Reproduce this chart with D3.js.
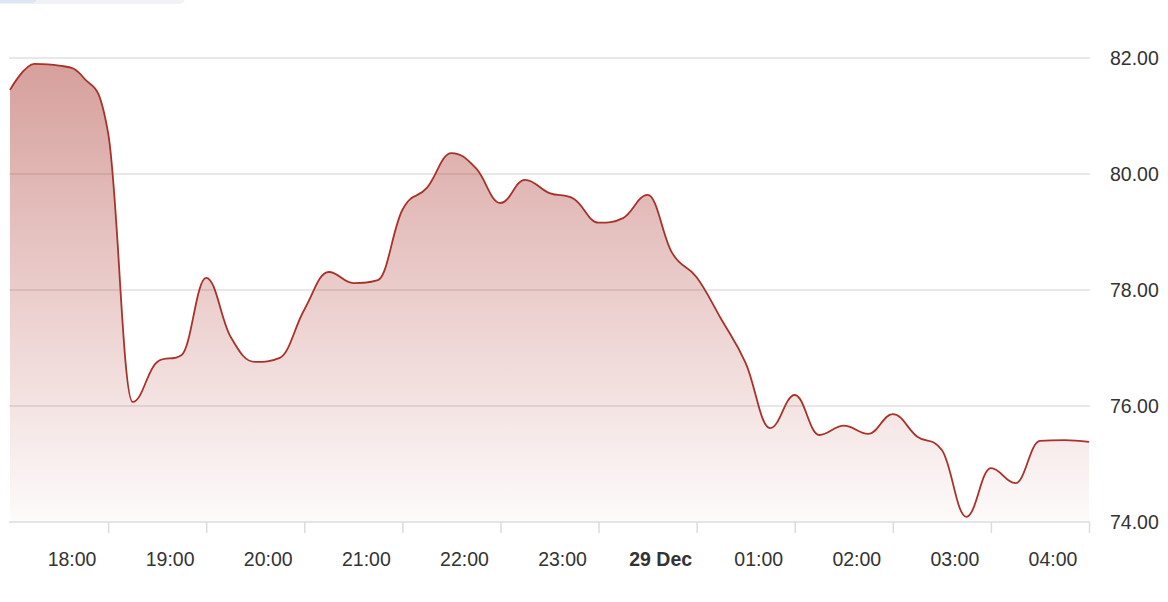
<!DOCTYPE html>
<html>
<head>
<meta charset="utf-8">
<script src="https://cdn.jsdelivr.net/npm/d3@7"></script>
<style>
  html, body { margin: 0; padding: 0; background: #fff; }
  svg { display: block; font-family: "Liberation Sans", Arial, sans-serif; }
</style>
</head>
<body>
<svg id="chart"></svg>
<script>
// price every 15 minutes, 28 Dec 17:00 -> 29 Dec 04:00
var startTime = new Date(2024, 11, 28, 17, 0);
var endTime = new Date(2024, 11, 29, 4, 0);
var stepMinutes = 15;
var prices = [
  81.45, 81.90, 81.87, 81.66, 80.71, 76.07, 76.76, 76.88, 78.21, 77.19,
  76.76, 76.83, 77.66, 78.31, 78.12, 78.17, 79.38, 79.76, 80.36, 80.10,
  79.50, 79.90, 79.67, 79.57, 79.16, 79.24, 79.64, 78.64, 78.22, 77.50,
  76.74, 75.62, 76.19, 75.50, 75.66, 75.52, 75.86, 75.47, 75.24, 74.09,
  74.93, 74.67, 75.40, 75.41, 75.38
];
var yTicks = [74, 76, 78, 80, 82];

var width = 1168,
    height = 602;
var plotLeft = 10, plotRight = 1089, plotTop = 58, plotBottom = 522;
var fontSize = "19.5px";

var data = prices.map(function (v, i) {
  return { t: new Date(startTime.getTime() + i * stepMinutes * 60000), v: v };
});

// spline curve: control points at 0.4 of the gap, no false extremes
function splineCurve(context) {
  var pts;
  return {
    areaStart: function () {},
    areaEnd: function () {},
    lineStart: function () { pts = []; },
    point: function (x, y) { pts.push([+x, +y]); },
    lineEnd: function () {
      var n = pts.length, s = 1.5, k = s + 1;
      var lc = [], rc = [];
      for (var i = 0; i < n; i++) {
        var px = pts[i][0], py = pts[i][1];
        if (i === 0 || i === n - 1) { lc[i] = [px, py]; rc[i] = [px, py]; continue; }
        var lx = pts[i - 1][0], ly = pts[i - 1][1], nx = pts[i + 1][0], ny = pts[i + 1][1];
        var lcx = (s * px + lx) / k, lcy = (s * py + ly) / k;
        var rcx = (s * px + nx) / k, rcy = (s * py + ny) / k;
        var corr = ((rcy - lcy) * (rcx - px)) / (rcx - lcx) + py - rcy;
        lcy += corr; rcy += corr;
        if (lcy > ly && lcy > py) { lcy = Math.max(ly, py); rcy = 2 * py - lcy; }
        else if (lcy < ly && lcy < py) { lcy = Math.min(ly, py); rcy = 2 * py - lcy; }
        if (rcy > ny && rcy > py) { rcy = Math.max(ny, py); lcy = 2 * py - rcy; }
        else if (rcy < ny && rcy < py) { rcy = Math.min(ny, py); lcy = 2 * py - rcy; }
        lc[i] = [lcx, lcy]; rc[i] = [rcx, rcy];
      }
      context.moveTo(pts[0][0], pts[0][1]);
      for (var j = 1; j < n; j++) {
        context.bezierCurveTo(rc[j - 1][0], rc[j - 1][1], lc[j][0], lc[j][1], pts[j][0], pts[j][1]);
      }
    }
  };
}

var svg = d3.select("#chart")
  .attr("width", width)
  .attr("height", height);

// little toolbar stub at the top left
svg.append("rect").attr("x", -10).attr("y", -12).attr("width", 195).attr("height", 16)
  .attr("rx", 6).attr("fill", "#f1f2f5");
svg.append("rect").attr("x", -10).attr("y", -12).attr("width", 47).attr("height", 15)
  .attr("rx", 5).attr("fill", "#dde6f5");

var x = d3.scaleTime().domain([startTime, endTime]).range([plotLeft, plotRight]);
var y = d3.scaleLinear().domain([74, 82]).range([plotBottom, plotTop]);

// gradient for the area
var grad = svg.append("defs").append("linearGradient")
  .attr("id", "areaFill")
  .attr("gradientUnits", "userSpaceOnUse")
  .attr("x1", 0).attr("y1", plotTop).attr("x2", 0).attr("y2", plotBottom);
grad.append("stop").attr("offset", 0).attr("stop-color", "#a8322a").attr("stop-opacity", 0.47);
grad.append("stop").attr("offset", 1).attr("stop-color", "#a8322a").attr("stop-opacity", 0.02);

// grid lines
svg.append("g")
  .selectAll("line")
  .data(yTicks.filter(function (d) { return d !== 74; }))
  .enter()
  .append("line")
    .attr("x1", plotLeft - 1).attr("x2", plotRight + 1)
    .attr("y1", function (d) { return y(d); })
    .attr("y2", function (d) { return y(d); })
    .attr("stroke", "#e0e0e0")
    .attr("stroke-width", 1.5);

// line + area below it
var line = d3.line()
  .x(function (d) { return x(d.t); })
  .y(function (d) { return y(d.v); })
  .curve(splineCurve);
var linePath = line(data);
var areaPath = linePath
  + "L" + x(data[data.length - 1].t) + "," + plotBottom
  + "L" + x(data[0].t) + "," + plotBottom + "Z";

svg.append("path").attr("d", areaPath).attr("fill", "url(#areaFill)");
svg.append("path").attr("d", linePath)
  .attr("fill", "none")
  .attr("stroke", "#a8322a")
  .attr("stroke-width", 1.8);

// y labels on the right
svg.append("g")
  .selectAll("text")
  .data(yTicks)
  .enter()
  .append("text")
    .attr("x", 1110)
    .attr("y", function (d) { return y(d); })
    .attr("dy", "0.36em")
    .attr("fill", "#333")
    .style("font-size", fontSize)
    .text(function (d) { return d.toFixed(2); });

// x axis (hour ticks, skip the one on the left edge)
var hourTicks = x.ticks(d3.timeHour.every(1)).filter(function (d) { return d > startTime; });
var xAxis = d3.axisBottom(x)
  .tickValues(hourTicks)
  .tickSizeOuter(0)
  .tickSize(11)
  .tickFormat("");
var gx = svg.append("g").attr("transform", "translate(0," + plotBottom + ")").call(xAxis);
gx.select(".domain").attr("stroke", "#dcdcdc").attr("stroke-width", 1.5)
  .attr("d", "M" + (plotLeft - 1) + ",0H" + (plotRight + 1));
gx.selectAll(".tick line").attr("stroke", "#dcdcdc").attr("stroke-width", 1.5);

svg.append("g")
  .selectAll("text")
  .data(hourTicks)
  .enter()
  .append("text")
    .attr("x", function (d) { return x(d) - 36; })
    .attr("y", 566)
    .attr("text-anchor", "middle")
    .attr("fill", "#333")
    .style("font-size", fontSize)
    .style("font-weight", function (d) { return d.getHours() === 0 ? "bold" : "normal"; })
    .text(function (d) {
      return d.getHours() === 0 ? d3.timeFormat("%-d %b")(d) : d3.timeFormat("%H:%M")(d);
    });
</script>
</body>
</html>
